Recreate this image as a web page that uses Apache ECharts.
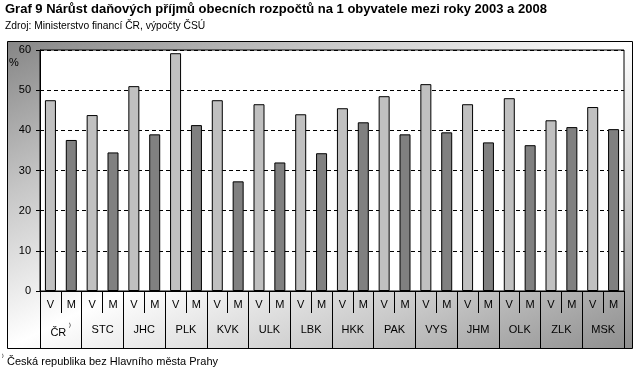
<!DOCTYPE html>
<html><head><meta charset="utf-8">
<script src="https://cdn.jsdelivr.net/npm/echarts@6/dist/echarts.min.js"></script>
<style>html,body{margin:0;padding:0;background:#fff}#c{width:641px;height:372px}</style>
</head><body><div id="c"></div>
<script>
const regions = ['ČR','STC','JHC','PLK','KVK','ULK','LBK','HKK','PAK','VYS','JHM','OLK','ZLK','MSK'];
const valuesV = [47.5,43.8,51.0,59.2,47.5,46.5,44.0,45.5,48.5,51.5,46.5,48.0,42.5,45.8];
const valuesM = [37.6,34.5,39.0,41.3,27.3,32.0,34.3,42.0,39.0,39.5,37.0,36.3,40.8,40.3];
const subLabels = ['V','M'];
const yTickValues = [0,10,20,30,40,50,60];

const FONT = 'Liberation Sans, Arial, sans-serif';
const slots = [];
const dataV = [];
const dataM = [];
regions.forEach((r,i)=>{
  slots.push(r+'|'+subLabels[0]); slots.push(r+'|'+subLabels[1]);
  dataV.push(valuesV[i]); dataV.push('-');
  dataM.push('-'); dataM.push(valuesM[i]);
});

// frame + diagonal gradient (iso-lines parallel to the anti-diagonal)
const fx=7, fy=41, fw=625, fh=307;
const k = 2/(1/(fw*fw)+1/(fh*fh));
const grad = new echarts.graphic.LinearGradient(fx, fy, fx+k/fw, fy+k/fh, [
  {offset:0, color:'#858585'},
  {offset:0.25, color:'#c6c6c6'},
  {offset:0.5, color:'#ffffff'},
  {offset:0.75, color:'#cbcbcb'},
  {offset:1, color:'#8e8e8e'}
], true);

const chart = echarts.init(document.getElementById('c'), null, {renderer:'canvas'});
chart.setOption({
  animation:false,
  backgroundColor:'#fff',
  title:[
    {text:'Graf 9 Nárůst daňových příjmů obecních rozpočtů na 1 obyvatele mezi roky 2003 a 2008',
     left:5, top:3, padding:0,
     textStyle:{fontFamily:FONT, fontSize:13, fontWeight:'bold', color:'#000'}},
    {text:'Zdroj: Ministerstvo financí ČR, výpočty ČSÚ',
     left:5, top:21, padding:0,
     textStyle:{fontFamily:FONT, fontSize:10.3, fontWeight:'normal', color:'#000'}}
  ],
  graphic:[
    {type:'rect', z:-10, shape:{x:fx+0.5, y:fy+0.5, width:fw, height:fh},
     style:{fill:grad, stroke:'#000', lineWidth:1}},
    {type:'text', left:9, top:57, z:10,
     style:{text:'%', fontFamily:FONT, fontSize:11, fill:'#000'}},
    {type:'text', left:2, top:355, z:10,
     style:{text:'{s|⁾} Česká republika bez Hlavního města Prahy', fontFamily:FONT, fontSize:11, fill:'#000',
       rich:{s:{fontSize:8, verticalAlign:'top', padding:[0,0,6,0]}}}}
  ],
  grid:{left:40, right:17, top:50, bottom:81, show:true, backgroundColor:'#fff', borderColor:'#000', borderWidth:1, containLabel:false},
  xAxis:[
    {type:'category', data:slots, position:'bottom',
     axisLine:{lineStyle:{color:'#000', width:1}},
     axisTick:{show:true, length:22, lineStyle:{color:'#000'}},
     axisLabel:{interval:0, margin:8, fontFamily:FONT, fontSize:11, color:'#000',
       formatter:v=>v.split('|')[1]}},
    {type:'category', data:regions, position:'bottom',
     axisLine:{show:false},
     axisTick:{show:true, length:57, lineStyle:{color:'#000'}},
     axisLabel:{interval:0, margin:33, fontFamily:FONT, fontSize:11, color:'#000',
       formatter:v=> v==='ČR' ? 'ČR {s|⁾}' : v,
       rich:{s:{fontSize:9, padding:[0,0,9,0]}}}}
  ],
  yAxis:{type:'value', min:yTickValues[0], max:yTickValues[yTickValues.length-1], interval:10,
    axisLine:{show:true, lineStyle:{color:'#000'}},
    axisTick:{show:true, length:4, lineStyle:{color:'#000'}},
    axisLabel:{margin:9, fontFamily:FONT, fontSize:11, color:'#000'},
    splitLine:{show:true, lineStyle:{color:'#000', type:[4,3], width:1}}},
  series:[
    {name:'V', type:'bar', xAxisIndex:0, data:dataV, barWidth:11, barGap:'-100%',
     itemStyle:{color:'#c0c0c0', borderColor:'#000', borderWidth:1}},
    {name:'M', type:'bar', xAxisIndex:0, data:dataM, barWidth:11, barGap:'-100%',
     itemStyle:{color:'#808080', borderColor:'#000', borderWidth:1}}
  ]
});
</script></body></html>
